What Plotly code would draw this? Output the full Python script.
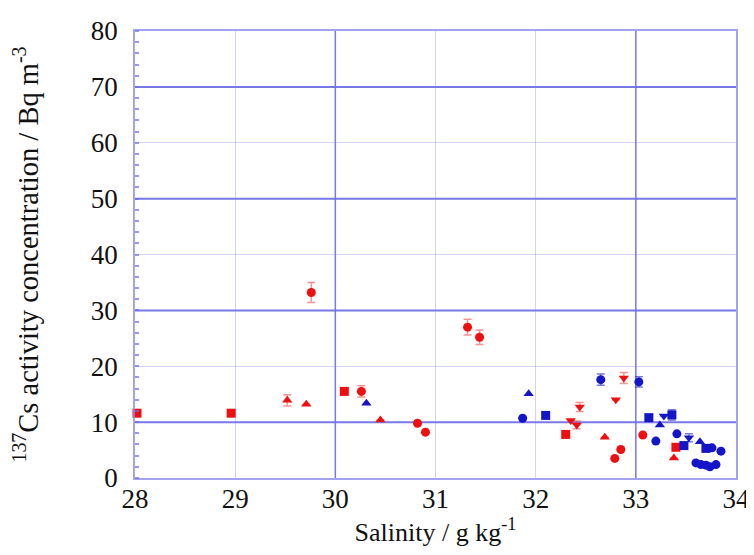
import plotly.graph_objects as go

# ---- data (salinity g/kg, 137Cs Bq/m3, error) ----
red_sq_x = [28.02, 28.96, 30.09, 32.30, 33.40]
red_sq_y = [11.6, 11.6, 15.5, 7.8, 5.5]

red_ci_x = [29.76, 30.26, 30.82, 30.90, 31.32, 31.44, 32.79, 32.85, 33.07]
red_ci_y = [33.2, 15.5, 9.8, 8.2, 27.0, 25.2, 3.5, 5.1, 7.7]
red_ci_e = [1.8, 1.0, None, None, 1.4, 1.3, None, None, None]

red_tu_x = [29.52, 29.71, 30.45, 32.69, 33.38]
red_tu_y = [13.9, 13.2, 10.4, 7.3, 3.6]
red_tu_e = [1.0, None, None, None, None]

red_td_x = [32.35, 32.41, 32.44, 32.80, 32.88]
red_td_y = [10.3, 9.5, 12.7, 14.0, 17.9]
red_td_e = [None, 0.7, 0.8, None, 1.0]

blue_ci_x = [31.87, 32.65, 33.03, 33.20, 33.41, 33.76, 33.85, 33.60, 33.65, 33.70, 33.74, 33.80]
blue_ci_y = [10.7, 17.6, 17.2, 6.6, 7.9, 5.4, 4.8, 2.7, 2.4, 2.3, 2.0, 2.4]
blue_ci_e = [None, 1.0, 0.9, None, None, None, None, None, None, None, None, None]

blue_sq_x = [32.10, 33.13, 33.36, 33.48, 33.70]
blue_sq_y = [11.2, 10.8, 11.3, 5.8, 5.3]
blue_sq_e = [None, None, 0.9, None, None]

blue_tu_x = [30.31, 31.93, 33.24, 33.64]
blue_tu_y = [13.4, 15.1, 9.5, 6.5]

blue_td_x = [33.28, 33.53]
blue_td_y = [11.1, 7.2]
blue_td_e = [None, 0.7]

x_ticks = [28, 29, 30, 31, 32, 33, 34]
y_ticks = [0, 10, 20, 30, 40, 50, 60, 70, 80]

RED = "#ee1010"
BLUE = "#1414c8"
RED_ERR = "rgba(240,60,60,0.55)"
BLUE_ERR = "rgba(30,30,200,0.6)"

fig = go.Figure()


def add(xs, ys, color, symbol, errs=None, ecolor=None, size=9):
    kw = {}
    if errs is not None:
        kw["error_y"] = dict(type="data", array=errs, visible=True,
                             color=ecolor, thickness=1.5, width=4)
    fig.add_trace(go.Scatter(x=xs, y=ys, mode="markers",
                             marker=dict(color=color, symbol=symbol, size=size),
                             cliponaxis=False, showlegend=False, **kw))


add(red_sq_x, red_sq_y, RED, "square")
add(red_ci_x, red_ci_y, RED, "circle", red_ci_e, RED_ERR)
add(red_tu_x, red_tu_y, RED, "triangle-up", red_tu_e, RED_ERR)
add(red_td_x, red_td_y, RED, "triangle-down", red_td_e, RED_ERR)
add(blue_ci_x, blue_ci_y, BLUE, "circle", blue_ci_e, BLUE_ERR)
add(blue_sq_x, blue_sq_y, BLUE, "square", blue_sq_e, BLUE_ERR)
add(blue_tu_x, blue_tu_y, BLUE, "triangle-up")
add(blue_td_x, blue_td_y, BLUE, "triangle-down", blue_td_e, BLUE_ERR)

STRONG = "rgba(95,95,225,0.85)"
for yv in [10, 30, 50, 70]:
    fig.add_hline(y=yv, line=dict(color=STRONG, width=2), layer="below")
for xv in [30, 33]:
    fig.add_vline(x=xv, line=dict(color=STRONG, width=1.5), layer="below")

FRAME = "rgba(140,140,235,0.8)"
FAINT = "rgba(130,130,240,0.35)"
font_serif = "Liberation Serif, Times New Roman, serif"

fig.update_layout(
    width=746, height=547,
    margin=dict(l=127, r=18, t=23, b=77),
    plot_bgcolor="white", paper_bgcolor="white",
    font=dict(family=font_serif, color="#111111"),
    xaxis=dict(range=[28, 34], tickvals=x_ticks, ticktext=[str(v) for v in x_ticks],
               showgrid=True, gridcolor=FAINT, gridwidth=1, automargin=False,
               showline=True, linecolor=FRAME, linewidth=1.5, mirror=True,
               ticks="", tickfont=dict(size=27), zeroline=False, ticklabelstandoff=-4,
               title=dict(text="Salinity / g kg<sup>-1</sup>", font=dict(size=26), standoff=6)),
    yaxis=dict(range=[0, 80], tickvals=y_ticks, ticktext=[str(v) for v in y_ticks],
               showgrid=True, gridcolor=FAINT, gridwidth=1, automargin=False,
               showline=True, linecolor=FRAME, linewidth=1.5, mirror=True,
               ticks="", tickfont=dict(size=27), zeroline=False, ticklabelstandoff=10,
               minor=dict(dtick=2, ticks="inside", ticklen=4, tickcolor="rgba(110,110,230,0.7)",
                          tickwidth=2, showgrid=False),
               title=dict(text="<sup>137</sup>Cs activity concentration / Bq m<sup>-3</sup>",
                          font=dict(size=28.5), standoff=44)),
)

fig.write_html("out.html")
